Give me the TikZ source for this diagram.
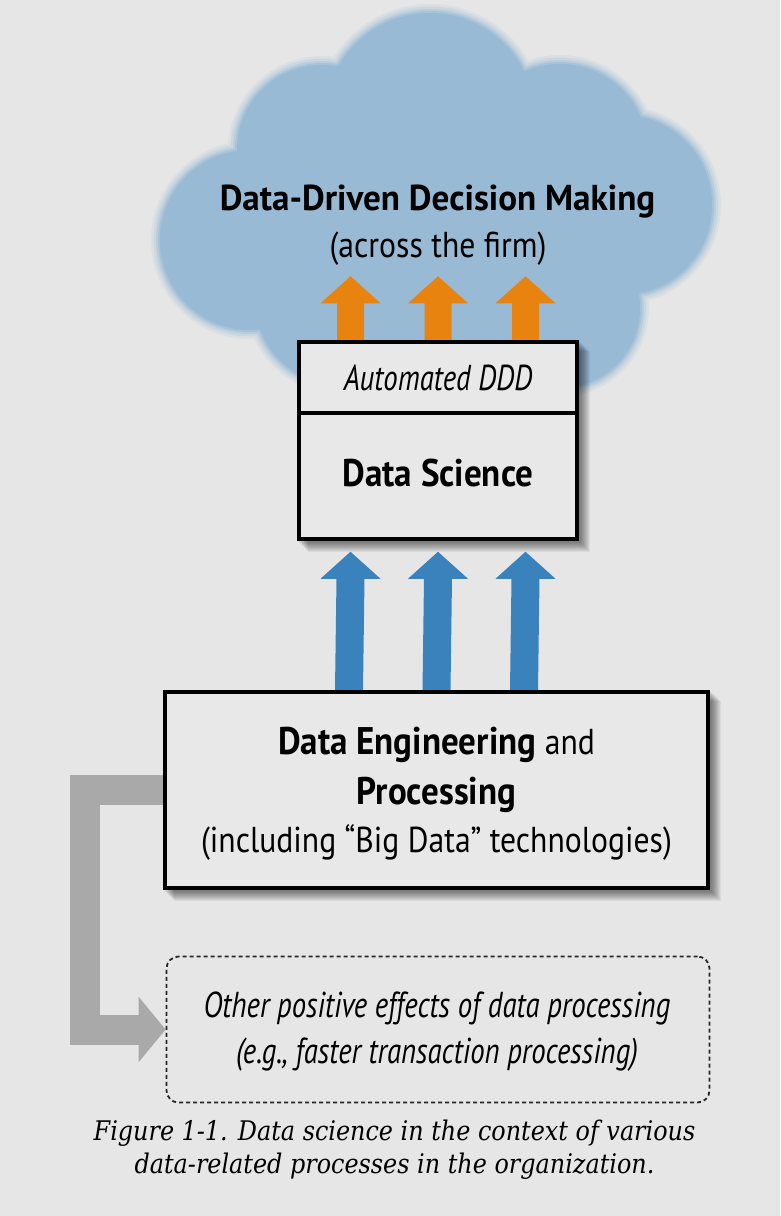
\documentclass[tikz,border=0pt]{standalone}
\usepackage{fontspec}
\setmainfont{Liberation Serif}
\newfontfamily\dfont{PT Sans}[FakeStretch=0.88, BoldFeatures={FakeStretch=0.975}, ItalicFeatures={FakeStretch=0.80}]
\newfontfamily\dfontB{PT Sans}[FakeStretch=0.88, BoldFeatures={FakeStretch=0.91}]
\newfontfamily\capfont{DejaVu Serif}[FakeStretch=0.885]
\usetikzlibrary{arrows.meta,calc}
\definecolor{bgc}{HTML}{E6E6E6}
\definecolor{cloudc}{HTML}{98BAD4}
\definecolor{orangec}{HTML}{E8830F}
\definecolor{bluec}{HTML}{3A82BC}
\definecolor{grayc}{HTML}{A9A9A9}
\definecolor{boxc}{HTML}{E8E8E8}
\pgfdeclarelayer{back}
\pgfsetlayers{back,main}
\tikzset{
  solidbox/.style={draw=black, line width=3.5pt, fill=boxc, inner sep=0pt, rectangle},
  dashbox/.style={draw=black!85, line width=1.8pt, dash pattern=on 4pt off 3pt, rounded corners=12pt, inner sep=0pt, rectangle},
  txt/.style={anchor=base, inner sep=0pt},
  bigtxt/.style={txt, font=\dfont\fontsize{36}{40}\selectfont},
  boldtxt/.style={txt, font=\dfontB\bfseries\fontsize{38.5}{42}\selectfont},
  ittxt/.style={txt, font=\dfont\itshape\fontsize{36}{40}\selectfont},
  captxt/.style={txt, font=\capfont\itshape\fontsize{27}{31}\selectfont},
  grayarrow/.style={draw=grayc, line width=30pt, line join=miter, -{Triangle[width=64pt,length=27pt]}},
}
\def\cloudpath{(430pt,-118pt) circle (105pt) (322pt,-150pt) circle (85pt) (250pt,-240pt) circle (90pt) (340pt,-300pt) circle (85pt) (560pt,-152pt) circle (88pt) (622pt,-205pt) circle (90pt) (560pt,-308pt) circle (80pt) (440pt,-250pt) circle (140pt)}
\begin{document}
\begin{tikzpicture}[x=1pt,y=-1pt]
\useasboundingbox (0,0) rectangle (780,1216);
% boxes
\node[solidbox, minimum width=278pt, minimum height=197pt] (ds) at (438,440.5) {};
\node[solidbox, minimum width=543pt, minimum height=196pt] (de) at (436.5,790) {};
\node[dashbox, minimum width=543pt, minimum height=146pt] (oth) at (438,1029.5) {};
\draw[line width=3.5pt] (ds.west |- 0,413) -- (ds.east |- 0,413);
% texts
\node[bigtxt, font=\dfont\bfseries\fontsize{36}{40}\selectfont] (title) at (437.5,210) {Data-Driven Decision Making};
\node[bigtxt] (firm) at (438,257) {(across the firm)};
\node[ittxt] (auto) at (438,390) {Automated DDD};
\node[boldtxt] (dsci) at (438,486) {Data Science};
\node[bigtxt] (de1) at (436.5,754) {{\dfontB\bfseries\fontsize{38.5}{42}\selectfont Data Engineering} and};
\node[boldtxt] (de2) at (436.5,804) {Processing};
\node[bigtxt] (de3) at (436.5,852) {(including “Big Data” technologies)};
\node[ittxt] (o1) at (437,1017) {Other positive effects of data processing};
\node[ittxt] (o2) at (437,1063) {(e.g., faster transaction processing)};
\node[captxt] (cap1) at (394.5,1140) {Figure 1-1. Data science in the context of various};
\node[captxt] (cap2) at (394.5,1173) {data-related processes in the organization.};
\begin{pgfonlayer}{back}
\fill[bgc] (0,0) rectangle (780,1216);
% cloud with soft edge
\draw[line width=18pt, cloudc!15!bgc] \cloudpath;
\draw[line width=13pt, cloudc!35!bgc] \cloudpath;
\draw[line width=8pt, cloudc!58!bgc] \cloudpath;
\draw[line width=4pt, cloudc!80!bgc] \cloudpath;
\fill[cloudc] \cloudpath;
% shadows
\foreach \s in {2,...,11} {
  \fill[black, opacity=0.055] ($(ds.south west)+(\s,\s)$) rectangle ($(ds.north east)+(\s,\s)$);
  \fill[black, opacity=0.055] ($(de.south west)+(\s,\s)$) rectangle ($(de.north east)+(\s,\s)$);
}
% orange arrows: ds -> cloud
\foreach \dx in {-87.5,0,87.5} {
  \fill[orangec] ($(ds.north)+(\dx-13.5,0)$) -- ($(ds.north)+(\dx-13.5,-37)$) -- ($(ds.north)+(\dx-30,-37)$) -- ($(ds.north)+(\dx,-64)$) -- ($(ds.north)+(\dx+30,-37)$) -- ($(ds.north)+(\dx+13.5,-37)$) -- ($(ds.north)+(\dx+13.5,0)$) -- cycle;
}
% blue arrows: de -> ds
\foreach \dx in {-87.5,0,87.5} {
  \fill[bluec] ($(de.north)+(\dx-14,0)$) -- ($(ds.south)+(\dx-14,38)$) -- ($(ds.south)+(\dx-30,38)$) -- ($(ds.south)+(\dx,11)$) -- ($(ds.south)+(\dx+30,38)$) -- ($(ds.south)+(\dx+14,38)$) -- ($(de.north)+(\dx+14,0)$) -- cycle;
}
% gray connector
\draw[grayarrow] (de.west) -- (de.west -| 85,0) -- (oth.west -| 85,0) -- (oth.west);
\end{pgfonlayer}
\end{tikzpicture}
\end{document}
